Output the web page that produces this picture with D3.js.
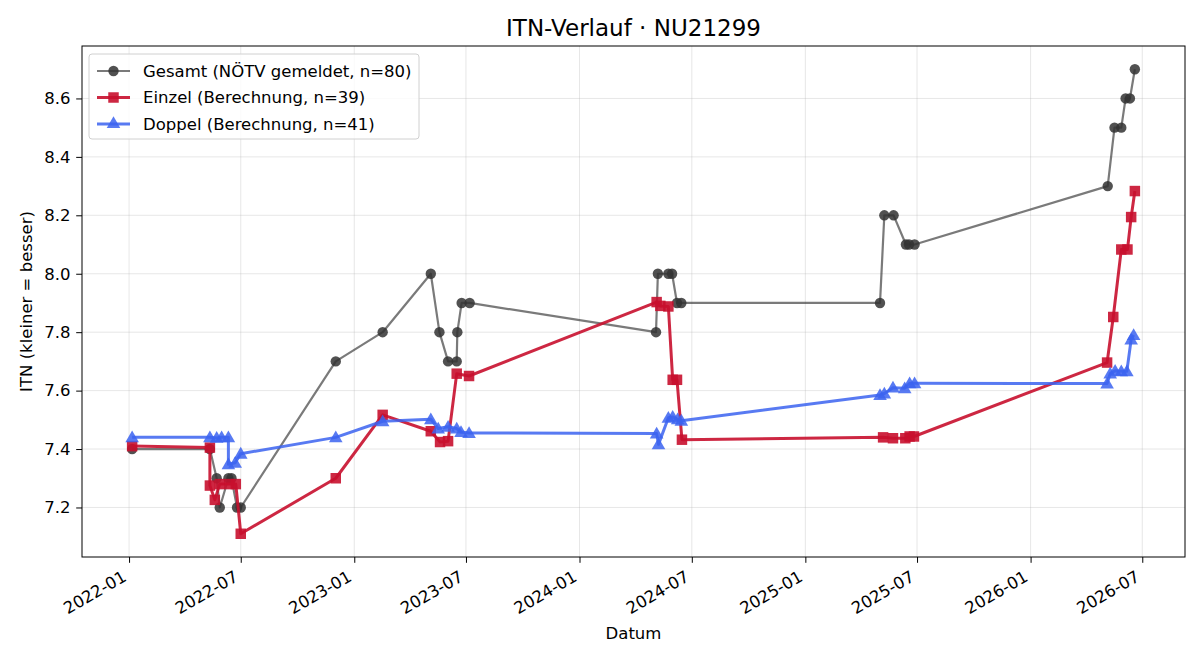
<!DOCTYPE html>
<html>
<head>
<meta charset="utf-8">
<script src="https://cdn.jsdelivr.net/npm/d3@7"></script>
<style>
  body { margin: 0; background: #fff; }
  text { font-family: "DejaVu Sans", sans-serif; }
</style>
</head>
<body>
<div class="canvas"></div>
<script>

// Gesamt (gray)
const gesamtDates = ['2022-01-06','2022-05-12','2022-05-23','2022-05-28','2022-06-11','2022-06-16','2022-06-25','2022-07-01',
  '2022-12-02','2023-02-16','2023-05-05','2023-05-19','2023-06-02','2023-06-16','2023-06-17','2023-06-24','2023-07-07',
  '2024-05-04','2024-05-07','2024-05-24','2024-05-30','2024-06-07','2024-06-14',
  '2025-05-02','2025-05-09','2025-05-24','2025-06-13','2025-06-18','2025-06-27',
  '2026-05-06','2026-05-17','2026-05-28','2026-06-04','2026-06-11','2026-06-19'];
const gesamtValues = [7.40,7.40,7.30,7.20,7.30,7.30,7.20,7.20,
  7.70,7.80,8.00,7.80,7.70,7.70,7.80,7.90,7.90,
  7.80,8.00,8.00,8.00,7.90,7.90,
  7.90,8.20,8.20,8.10,8.10,8.10,
  8.30,8.50,8.50,8.60,8.60,8.70];

// Einzel (red)
const einzelDates = ['2022-01-06','2022-05-12','2022-05-12','2022-05-20','2022-05-28','2022-06-13','2022-06-23','2022-07-01',
  '2022-12-02','2023-02-16','2023-05-05','2023-05-20','2023-06-02','2023-06-16','2023-07-06',
  '2024-05-05','2024-05-11','2024-05-24','2024-05-31','2024-06-07','2024-06-15',
  '2025-05-07','2025-05-23','2025-06-12','2025-06-19','2025-06-26',
  '2026-05-05','2026-05-15','2026-05-28','2026-06-07','2026-06-13','2026-06-19'];
const einzelValues = [7.410,7.405,7.275,7.226,7.280,7.280,7.280,7.110,
  7.300,7.517,7.461,7.424,7.427,7.658,7.650,
  7.903,7.890,7.888,7.637,7.637,7.432,
  7.440,7.437,7.437,7.443,7.443,
  7.696,7.852,8.083,8.083,8.194,8.283];

// Doppel (blue)
const doppelDates = ['2022-01-06','2022-05-12','2022-05-23','2022-05-31','2022-06-11','2022-06-11','2022-06-22','2022-07-01',
  '2022-12-02','2023-02-16','2023-05-05','2023-05-17','2023-06-02','2023-06-16','2023-06-23','2023-07-06',
  '2024-05-05','2024-05-08','2024-05-24','2024-05-31','2024-06-08','2024-06-14',
  '2025-05-02','2025-05-09','2025-05-23','2025-06-11','2025-06-19','2025-06-27',
  '2026-05-05','2026-05-10','2026-05-18','2026-05-28','2026-06-06','2026-06-13','2026-06-17'];
const doppelValues = [7.440,7.440,7.438,7.440,7.440,7.348,7.353,7.384,
  7.440,7.495,7.502,7.470,7.476,7.470,7.458,7.455,
  7.453,7.416,7.507,7.510,7.502,7.497,
  7.585,7.590,7.610,7.608,7.625,7.625,
  7.624,7.658,7.668,7.666,7.666,7.775,7.790];

const yTicks = [7.2, 7.4, 7.6, 7.8, 8.0, 8.2, 8.4, 8.6];

const legendLabels = ['Gesamt (NÖTV gemeldet, n=80)', 'Einzel (Berechnung, n=39)', 'Doppel (Berechnung, n=41)'];

const parse = d3.timeParse('%Y-%m-%d');
function pts(dates, vals){ return dates.map((d, i) => ({date: parse(d), v: vals[i]})); }

const series = [
  {name: legendLabels[0], data: pts(gesamtDates, gesamtValues), color: '#333333', op: 0.65, mop: 0.85, lw: 2.2, marker: 'circle'},
  {name: legendLabels[1], data: pts(einzelDates, einzelValues), color: '#c8102e', op: 0.9, mop: 0.9, lw: 3, marker: 'square'},
  {name: legendLabels[2], data: pts(doppelDates, doppelValues), color: '#3b63f0', op: 0.85, mop: 0.85, lw: 3, marker: 'triangle'}
];

const FS = 16.5;   // normal text
const W = 1200, H = 660;
const m = {top: 46, right: 15, bottom: 103, left: 82};
const iw = W - m.left - m.right, ih = H - m.top - m.bottom;

const svg = d3.select('.canvas').append('svg').attr('width', W).attr('height', H);
const g = svg.append('g').attr('transform', `translate(${m.left},${m.top})`);

// domains with 5% padding like matplotlib
const all = series.flatMap(s => s.data);
const xExt = d3.extent(all, d => d.date);
const xPad = (xExt[1] - xExt[0]) * 0.05;
const x = d3.scaleTime().domain([new Date(+xExt[0] - xPad), new Date(+xExt[1] + xPad)]).range([0, iw]);
const yExt = d3.extent(all, d => d.v);
const yPad = (yExt[1] - yExt[0]) * 0.05;
const y = d3.scaleLinear().domain([yExt[0] - yPad, yExt[1] + yPad]).range([ih, 0]);

const xTicks = x.ticks(d3.timeMonth.every(6));

// grid
g.append('g').selectAll('line').data(xTicks).join('line')
  .attr('x1', d => x(d)).attr('x2', d => x(d)).attr('y1', 0).attr('y2', ih)
  .attr('stroke', '#b0b0b0').attr('stroke-opacity', 0.3).attr('stroke-width', 1);
g.append('g').selectAll('line').data(yTicks).join('line')
  .attr('x1', 0).attr('x2', iw).attr('y1', d => y(d)).attr('y2', d => y(d))
  .attr('stroke', '#b0b0b0').attr('stroke-opacity', 0.3).attr('stroke-width', 1);

// axes
const xAxis = g.append('g').attr('transform', `translate(0,${ih})`)
  .call(d3.axisBottom(x).tickValues(xTicks).tickFormat(d3.timeFormat('%Y-%m')).tickSize(5.8));
xAxis.select('.domain').remove();
xAxis.selectAll('text')
  .attr('font-size', FS).attr('fill', '#000')
  .attr('text-anchor', 'end')
  .attr('x', 0).attr('y', 0).attr('dy', 0)
  .attr('transform', 'translate(-2,23) rotate(-30)');

const yAxis = g.append('g')
  .call(d3.axisLeft(y).tickValues(yTicks).tickFormat(d3.format('.1f')).tickSize(5.8).tickPadding(5.8));
yAxis.select('.domain').remove();
yAxis.selectAll('text').attr('font-size', FS).attr('fill', '#000');
svg.selectAll('.tick line').attr('stroke', '#000').attr('stroke-width', 1);

// lines + markers
const line = d3.line().x(d => x(d.date)).y(d => y(d.v));
function symOf(s){ return s.marker === 'circle' ? d3.symbolCircle : s.marker === 'square' ? d3.symbolSquare : d3.symbolTriangle; }
function sizeOf(s){ return s.marker === 'circle' ? 85 : s.marker === 'square' ? 110 : 80; }
series.forEach(s => {
  g.append('path').datum(s.data).attr('d', line)
    .attr('fill', 'none').attr('stroke', s.color).attr('stroke-width', s.lw)
    .attr('stroke-opacity', s.op).attr('stroke-linejoin', 'round');
  g.append('g').selectAll('path').data(s.data).join('path')
    .attr('transform', d => `translate(${x(d.date)},${y(d.v) + (s.marker === 'triangle' ? 1 : 0)})`)
    .attr('d', d3.symbol().type(symOf(s)).size(sizeOf(s)))
    .attr('fill', s.color).attr('fill-opacity', s.mop);
});

// frame
g.append('rect').attr('width', iw).attr('height', ih)
  .attr('fill', 'none').attr('stroke', '#000').attr('stroke-width', 1);

// legend
const lg = g.append('g').attr('transform', 'translate(7,8)');
lg.append('rect').attr('width', 330).attr('height', 85).attr('rx', 3)
  .attr('fill', '#fff').attr('fill-opacity', 0.8).attr('stroke', '#d0d0d0');
series.forEach((s, i) => {
  const yy = 17 + i * 26.5;
  lg.append('line').attr('x1', 8).attr('x2', 41).attr('y1', yy).attr('y2', yy)
    .attr('stroke', s.color).attr('stroke-opacity', s.op).attr('stroke-width', s.lw);
  lg.append('path').attr('transform', `translate(24.5,${yy})`)
    .attr('d', d3.symbol().type(symOf(s)).size(sizeOf(s)))
    .attr('fill', s.color).attr('fill-opacity', s.mop);
  lg.append('text').attr('x', 54).attr('y', yy).attr('dy', '0.35em')
    .attr('font-size', FS).text(s.name);
});

// title and labels
svg.append('text').attr('x', m.left + iw / 2).attr('y', 36).attr('text-anchor', 'middle')
  .attr('font-size', 23).text('ITN-Verlauf · NU21299');
svg.append('text').attr('x', m.left + iw / 2).attr('y', 639).attr('text-anchor', 'middle')
  .attr('font-size', FS).text('Datum');
svg.append('text').attr('transform', `translate(32,${m.top + ih / 2}) rotate(-90)`)
  .attr('text-anchor', 'middle').attr('font-size', FS).text('ITN  (kleiner = besser)');

</script>
</body>
</html>
